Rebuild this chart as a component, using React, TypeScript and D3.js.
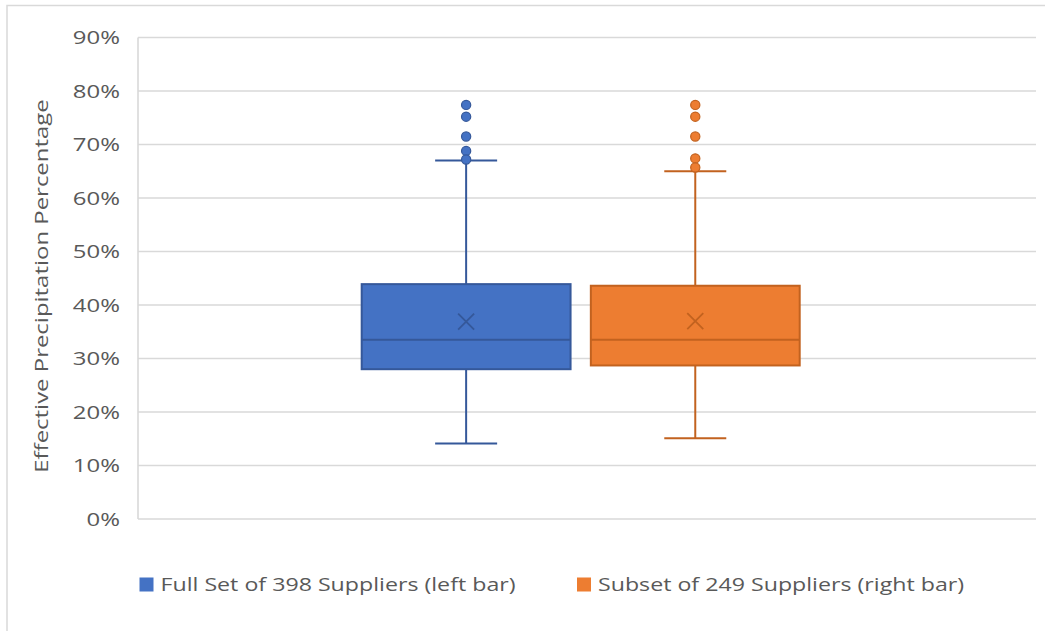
import React from "react";
import * as d3 from "d3";

// Series in the box plot
const seriesNames = ["Full Set of 398 Suppliers (left bar)", "Subset of 249 Suppliers (right bar)"];
const seriesColors = ["#4472C4", "#ED7D31"];
const seriesStrokes = ["#35589A", "#C2621F"];

// Five-number summaries and means (fractions)
const mins = [0.141, 0.151];
const q1s = [0.280, 0.287];
const medians = [0.335, 0.335];
const q3s = [0.439, 0.436];
const maxs = [0.670, 0.650];
const means = [0.369, 0.370];

// Outlier points for each series
const outliersFull = [0.774, 0.752, 0.715, 0.688, 0.672];
const outliersSubset = [0.774, 0.752, 0.715, 0.674, 0.657];
const outliers = [outliersFull, outliersSubset];

const yTicks = [0, 0.1, 0.2, 0.3, 0.4, 0.5, 0.6, 0.7, 0.8, 0.9];

const W = 1045;
const H = 631;
const plot = { left: 138, right: 1036, top: 37.5, bottom: 519 };
const FONT = "'Open Sans', 'Noto Sans', sans-serif";
const TEXT = "#595959";
// horizontal stretch applied to labels
const SX_AXIS = 1.26;
const SX_LEGEND = 1.22;

export default function App() {
  const y = d3.scaleLinear().domain([0, 0.9]).range([plot.bottom, plot.top]);
  const x = d3
    .scaleBand<number>()
    .domain([0, 1])
    .range([361.7, 799.7])
    .paddingInner(0.0885)
    .paddingOuter(0);
  const bw = x.bandwidth();
  const fmt = d3.format(".0%");

  return (
    <svg
      width={W}
      height={H}
      style={{ position: "absolute", left: 0, top: 0, background: "#fff" }}
      fontFamily={FONT}
    >
      {/* chart frame */}
      <rect x={7} y={5.5} width={W + 20} height={H + 20} fill="none" stroke="#d9d9d9" strokeWidth={1.5} />

      {/* gridlines */}
      {yTicks.map((t) => (
        <line
          key={t}
          x1={plot.left}
          x2={plot.right}
          y1={y(t)}
          y2={y(t)}
          stroke="#d9d9d9"
          strokeWidth={1.6}
        />
      ))}
      <line x1={plot.left} x2={plot.left} y1={plot.top} y2={plot.bottom} stroke="#d9d9d9" strokeWidth={1.6} />

      {/* y tick labels */}
      {yTicks.map((t) => (
        <g key={"l" + t} transform={`translate(120,${y(t)}) scale(${SX_AXIS},1)`}>
          <text dy="0.35em" textAnchor="end" fontSize={19} fill={TEXT}>
            {fmt(t)}
          </text>
        </g>
      ))}

      {/* y axis title */}
      <g transform={`translate(48,286) rotate(-90) scale(${SX_AXIS},1)`}>
        <text textAnchor="middle" fontSize={19} fill={TEXT}>
          Effective Precipitation Percentage
        </text>
      </g>

      {/* boxes */}
      {seriesNames.map((_, i) => {
        const x0 = x(i)!;
        const cx = x0 + bw / 2;
        const capW = 62;
        const mx = 8;
        return (
          <g key={i}>
            {/* whiskers */}
            <line x1={cx} x2={cx} y1={y(maxs[i])} y2={y(q3s[i])} stroke={seriesStrokes[i]} strokeWidth={2} />
            <line x1={cx} x2={cx} y1={y(q1s[i])} y2={y(mins[i])} stroke={seriesStrokes[i]} strokeWidth={2} />
            <line x1={cx - capW / 2} x2={cx + capW / 2} y1={y(maxs[i])} y2={y(maxs[i])} stroke={seriesStrokes[i]} strokeWidth={2} />
            <line x1={cx - capW / 2} x2={cx + capW / 2} y1={y(mins[i])} y2={y(mins[i])} stroke={seriesStrokes[i]} strokeWidth={2} />
            {/* box */}
            <rect
              x={x0}
              y={y(q3s[i])}
              width={bw}
              height={y(q1s[i]) - y(q3s[i])}
              fill={seriesColors[i]}
              stroke={seriesStrokes[i]}
              strokeWidth={2}
            />
            <line x1={x0} x2={x0 + bw} y1={y(medians[i])} y2={y(medians[i])} stroke={seriesStrokes[i]} strokeWidth={2} />
            {/* mean marker */}
            <path
              d={`M${cx - mx},${y(means[i]) - mx}L${cx + mx},${y(means[i]) + mx}M${cx - mx},${y(means[i]) + mx}L${cx + mx},${y(means[i]) - mx}`}
              stroke={seriesStrokes[i]}
              strokeWidth={1.8}
              fill="none"
            />
            {/* outliers */}
            {outliers[i].map((v, k) => (
              <circle key={k} cx={cx} cy={y(v)} r={4.6} fill={seriesColors[i]} stroke={seriesStrokes[i]} strokeWidth={1.2} />
            ))}
          </g>
        );
      })}

      {/* legend */}
      {seriesNames.map((name, i) => {
        const lx = [139.5, 577][i];
        return (
          <g key={"lg" + i}>
            <rect x={lx} y={577.5} width={14} height={14} fill={seriesColors[i]} />
            <g transform={`translate(${lx + 21},584.5) scale(${SX_LEGEND},1)`}>
              <text dy="0.35em" fontSize={19} fill={TEXT}>
                {name}
              </text>
            </g>
          </g>
        );
      })}
    </svg>
  );
}
